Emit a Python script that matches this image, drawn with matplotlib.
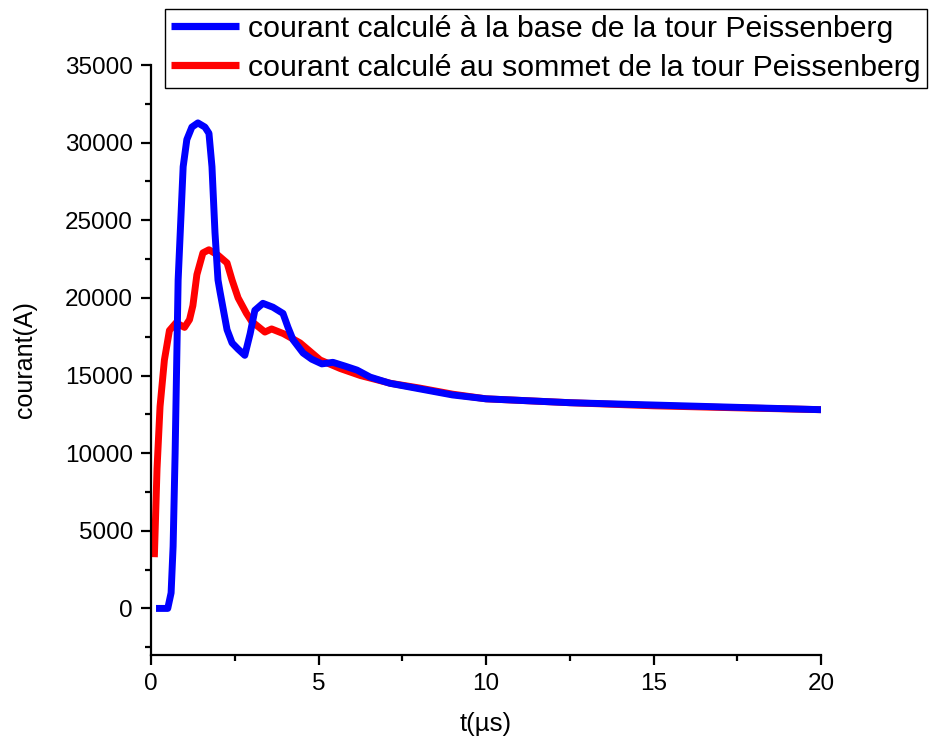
import matplotlib
matplotlib.use("Agg")
import matplotlib.pyplot as plt
from matplotlib.ticker import MultipleLocator

plt.rcParams['font.family'] = ['Liberation Sans', 'DejaVu Sans']

# Current at the base of the tower (blue)
t_base = [0.15, 0.5, 0.6, 0.66, 0.72, 0.81, 0.96, 1.07, 1.22, 1.40, 1.61, 1.73,
          1.82, 1.91, 2.0, 2.06, 2.27, 2.42, 2.6, 2.8, 2.96, 3.1, 3.34, 3.64,
          3.94, 4.09, 4.24, 4.54, 4.8, 5.1, 5.43, 5.8, 6.15, 6.54, 7.13, 8.0,
          9.0, 10.0, 12.5, 15.0, 17.5, 20.0]
i_base = [0, 0, 1000, 4000, 10000, 21150, 28450, 30200, 31000, 31270, 31000,
          30600, 28450, 24200, 21150, 20400, 17950, 17100, 16700, 16300, 17700,
          19200, 19650, 19400, 19000, 18100, 17300, 16450, 16050, 15750, 15850,
          15600, 15350, 14900, 14500, 14150, 13750, 13500, 13250, 13100, 12950,
          12800]

# Current at the top of the tower (red)
t_top = [0.1, 0.18, 0.27, 0.4, 0.55, 0.75, 1.0, 1.15, 1.25, 1.37, 1.55, 1.73,
         2.0, 2.27, 2.42, 2.6, 2.85, 3.0, 3.4, 3.6, 3.95, 4.45, 5.05, 5.65,
         6.25, 7.15, 8.0, 9.0, 10.0, 12.5, 15.0, 17.5, 20.0]
i_top = [3300, 9000, 13000, 16000, 17900, 18400, 18100, 18600, 19500, 21500,
         22900, 23100, 22750, 22250, 21150, 20000, 19000, 18500, 17800, 18000,
         17700, 17100, 16000, 15450, 15000, 14500, 14200, 13800, 13500, 13250,
         13050, 12920, 12800]

labels = ["courant calculé à la base de la tour Peissenberg",
          "courant calculé au sommet de la tour Peissenberg"]

fig = plt.figure(figsize=(9.32, 7.40), dpi=100)
ax = fig.add_axes([151/932, 85/740, 670/932, 590/740])

l1, = ax.plot(t_base, i_base, color='#0000ff', lw=5, solid_joinstyle='round',
              solid_capstyle='butt', zorder=3)
l2, = ax.plot(t_top, i_top, color='#ff0000', lw=5, solid_joinstyle='round',
              solid_capstyle='butt', zorder=2)

ax.set_xlim(0, 20)
ax.set_ylim(-3000, 35000)
ax.xaxis.set_major_locator(MultipleLocator(5))
ax.xaxis.set_minor_locator(MultipleLocator(2.5))
ax.yaxis.set_minor_locator(MultipleLocator(2500))
ax.set_yticks([0, 5000, 10000, 15000, 20000, 25000, 30000, 35000])
ax.spines['top'].set_visible(False)
ax.spines['right'].set_visible(False)
for s in ('left', 'bottom'):
    ax.spines[s].set_linewidth(1.6)
ax.tick_params(which='major', direction='out', length=7, width=1.6,
               labelsize=17.5, pad=6)
ax.tick_params(which='minor', direction='out', length=4, width=1.6)

ax.set_xlabel("t(µs)", fontsize=18.5, labelpad=12)
ax.set_ylabel("courant(A)", fontsize=18, labelpad=20)

leg = fig.legend([l1, l2], labels, loc='upper left',
                 bbox_to_anchor=(165/932, 1 - 9/740), borderaxespad=0,
                 fontsize=21.8, handlelength=2.25, handletextpad=0.3,
                 labelspacing=0.36, borderpad=0.2, fancybox=False,
                 framealpha=1, edgecolor='black')
leg.get_frame().set_linewidth(1.0)
for h in leg.get_lines():
    h.set_linewidth(5.2)

fig.savefig("out.png", dpi=100)
